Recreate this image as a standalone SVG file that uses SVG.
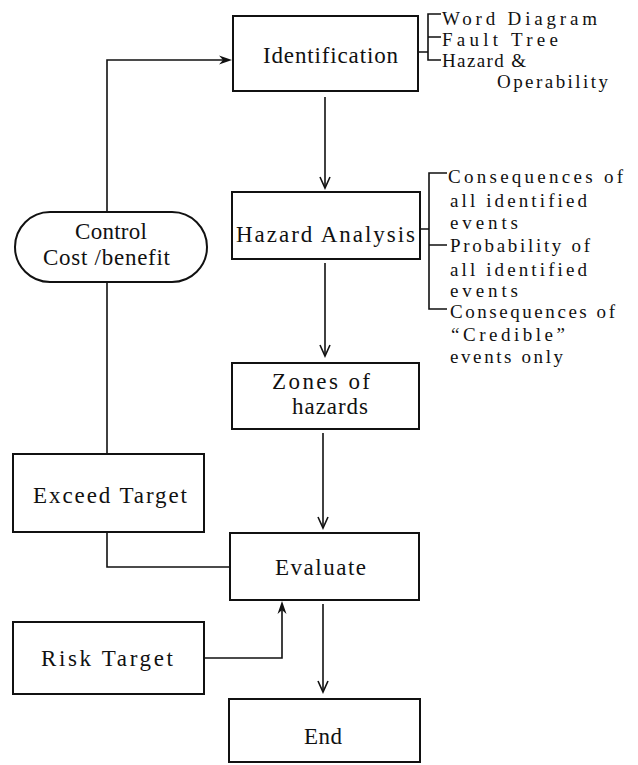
<svg xmlns="http://www.w3.org/2000/svg" width="638" height="765" viewBox="0 0 638 765">
<style>
.box{fill:#fff;stroke:#111;stroke-width:2}
.ln{fill:none;stroke:#111;stroke-width:1.6}
.t{font-family:"Liberation Serif","Times New Roman",serif;font-size:23px;fill:#111}
.s{font-family:"Liberation Serif","Times New Roman",serif;font-size:19px;fill:#111}
</style>
<defs>
<marker id="open" markerWidth="14" markerHeight="12" refX="12" refY="6" orient="auto" markerUnits="userSpaceOnUse" viewBox="0 0 14 12">
<path d="M1,1 L12,6 L1,11" fill="none" stroke="#111" stroke-width="1.6"/>
</marker>
</defs>
<rect width="638" height="765" fill="#fff"/>
<g id="connectors">
<path class="ln" d="M107,212 V60 H224"/>
<path class="ln" d="M325,97 V188" marker-end="url(#open)"/>
<path class="ln" d="M325,263 V356" marker-end="url(#open)"/>
<path class="ln" d="M323,433 V528" marker-end="url(#open)"/>
<path class="ln" d="M107,282 V454"/>
<path class="ln" d="M107,532 V567 H230"/>
<path class="ln" d="M204,658 H282 V608"/>
<path class="ln" d="M323,604 V692" marker-end="url(#open)"/>
<path d="M232,60 L219,55.5 L223,60 L219,64.5 Z" fill="#111"/>
<path d="M282,601 L277.5,614 L282,610 L286.5,614 Z" fill="#111"/>
<path class="ln" d="M418,52 H428 M441,14 H428 V60 H441 M428,37 H441"/>
<path class="ln" d="M420,229 H429 M447,173 H429 V309 H447 M429,245 H447"/>
</g>
<g id="identification">
<rect class="box" x="233" y="16" width="185" height="75"/>
<text class="t" x="263" y="63" textLength="135" lengthAdjust="spacing">Identification</text>
</g>
<g id="identification-methods">
<text class="s" x="442" y="25" textLength="155" lengthAdjust="spacing">Word Diagram</text>
<text class="s" x="442" y="46" textLength="116" lengthAdjust="spacing">Fault Tree</text>
<text class="s" x="442" y="67" textLength="84" lengthAdjust="spacing">Hazard &amp;</text>
<text class="s" x="497" y="88" textLength="111" lengthAdjust="spacing">Operability</text>
</g>
<g id="hazard-analysis">
<rect class="box" x="232" y="192" width="188" height="67"/>
<text class="t" x="236" y="242" textLength="179" lengthAdjust="spacing">Hazard Analysis</text>
</g>
<g id="analysis-options">
<text class="s" x="448" y="183" textLength="175" lengthAdjust="spacing">Consequences of</text>
<text class="s" x="450" y="207" textLength="137" lengthAdjust="spacing">all identified</text>
<text class="s" x="450" y="229" textLength="68" lengthAdjust="spacing">events</text>
<text class="s" x="450" y="252" textLength="140" lengthAdjust="spacing">Probability of</text>
<text class="s" x="450" y="276" textLength="137" lengthAdjust="spacing">all identified</text>
<text class="s" x="450" y="297" textLength="68" lengthAdjust="spacing">events</text>
<text class="s" x="450" y="318" textLength="165" lengthAdjust="spacing">Consequences of</text>
<text class="s" x="451" y="341" textLength="114" lengthAdjust="spacing">“Credible”</text>
<text class="s" x="450" y="363" textLength="113" lengthAdjust="spacing">events only</text>
</g>
<g id="control">
<rect class="box" x="15" y="212" width="192" height="70" rx="35" ry="35"/>
<text class="t" x="75" y="239" textLength="72" lengthAdjust="spacing">Control</text>
<text class="t" x="43" y="265" textLength="127" lengthAdjust="spacing">Cost /benefit</text>
</g>
<g id="zones">
<rect class="box" x="232" y="363" width="187" height="66"/>
<text class="t" x="272" y="389" textLength="98" lengthAdjust="spacing">Zones of</text>
<text class="t" x="292" y="414" textLength="76" lengthAdjust="spacing">hazards</text>
</g>
<g id="exceed-target">
<rect class="box" x="13" y="454" width="191" height="78"/>
<text class="t" x="33" y="503" textLength="154" lengthAdjust="spacing">Exceed Target</text>
</g>
<g id="evaluate">
<rect class="box" x="230" y="533" width="189" height="67"/>
<text class="t" x="275" y="575" textLength="91" lengthAdjust="spacing">Evaluate</text>
</g>
<g id="risk-target">
<rect class="box" x="13" y="622" width="191" height="72"/>
<text class="t" x="41" y="666" textLength="132" lengthAdjust="spacing">Risk Target</text>
</g>
<g id="end">
<rect class="box" x="229" y="699" width="191" height="63"/>
<text class="t" x="304" y="744" textLength="38" lengthAdjust="spacing">End</text>
</g>
</svg>
